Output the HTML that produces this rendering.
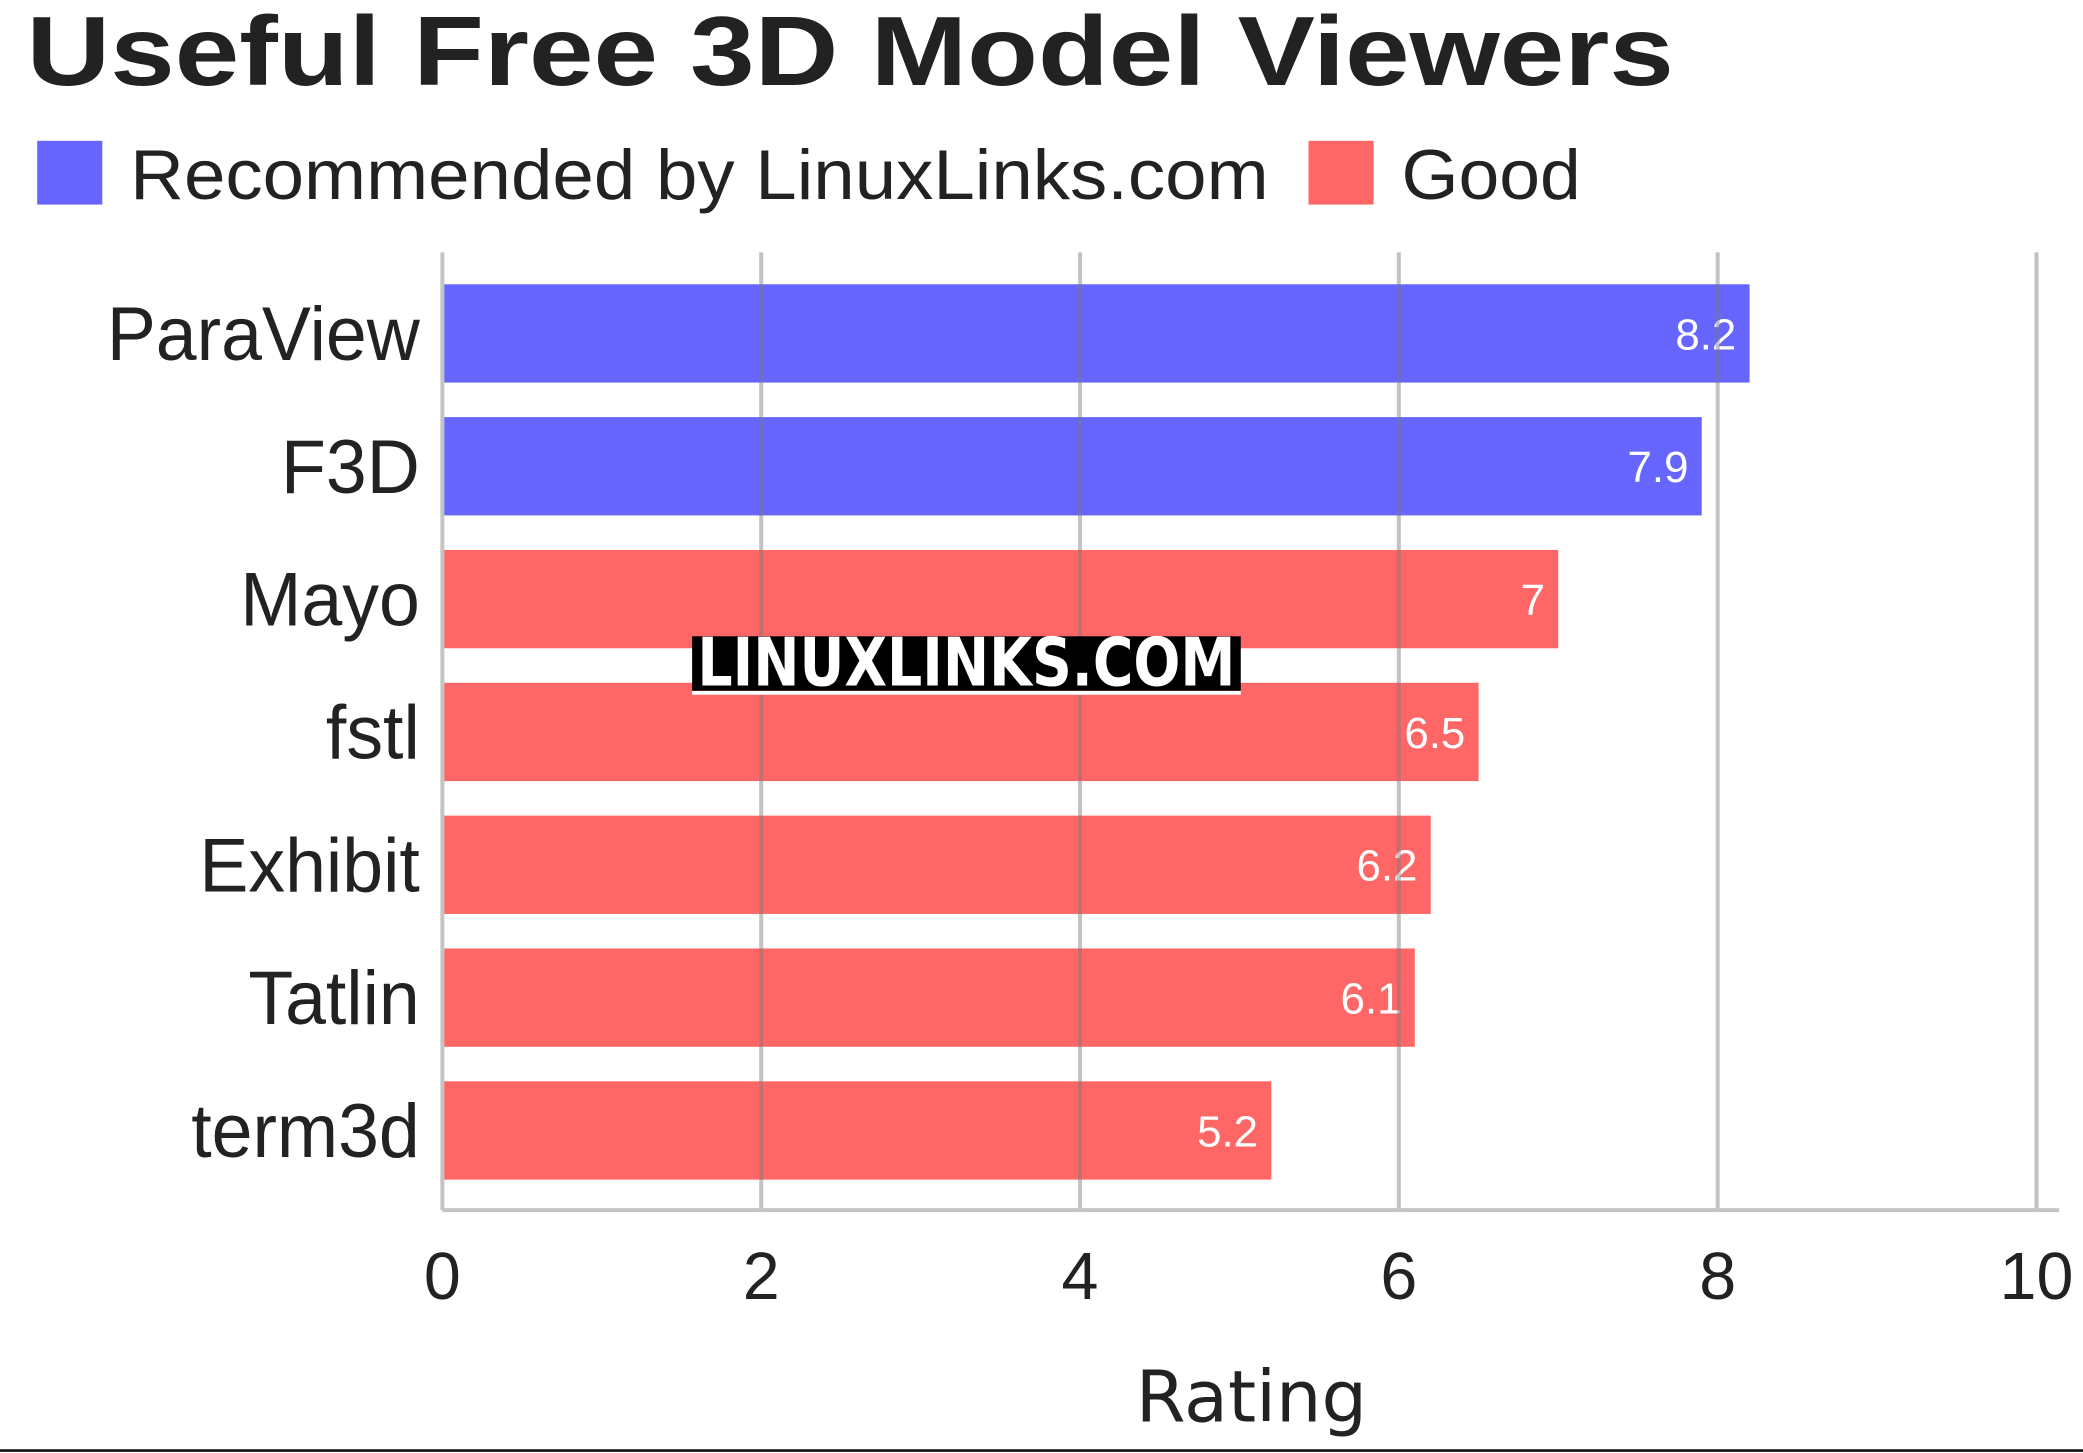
<!DOCTYPE html>
<html><head><meta charset="utf-8"><style>
html,body{margin:0;padding:0;background:#fff;}
svg{display:block;}
text{font-family:"Liberation Sans",sans-serif;}
</style></head><body>
<svg id="chart" width="2083" height="1453" viewBox="0 0 1568 1093.8" preserveAspectRatio="none" xmlns="http://www.w3.org/2000/svg">
<text x="20" y="64" font-size="74" font-weight="bold" fill="#222" textLength="1240" lengthAdjust="spacingAndGlyphs">Useful Free 3D Model Viewers</text>
<rect x="28" y="106" width="49" height="48" fill="#6666ff"/>
<text x="98" y="150" font-size="53" fill="#222" textLength="857" lengthAdjust="spacingAndGlyphs">Recommended by LinuxLinks.com</text>
<rect x="985" y="106" width="49" height="48" fill="#ff6666"/>
<text x="1055" y="150" font-size="53" fill="#222" textLength="135" lengthAdjust="spacingAndGlyphs">Good</text>
<g id="bars"></g>
<g id="labels" transform="translate(316,0) scale(0.97,1) translate(-316,0)"></g>
<g id="grid"></g>
<line x1="333" y1="911" x2="1550" y2="911" stroke="#c4c4c4" stroke-width="3"/>
<g id="ticks"></g>
<text x="942" y="1070" font-size="54" fill="#222" text-anchor="middle" style="font-family:'DejaVu Sans',sans-serif">Rating</text>
<line x1="0" y1="1092" x2="1568" y2="1092" stroke="#111" stroke-width="2"/>
<g>
<rect x="521" y="520" width="413" height="3" fill="#fff"/>
<rect x="521" y="479" width="413" height="41" fill="#000"/>
<text x="525" y="516" font-size="50" font-weight="bold" fill="#fff" textLength="405" lengthAdjust="spacingAndGlyphs" style="font-family:'DejaVu Sans',sans-serif">LINUXLINKS.COM</text>
</g>
</svg>
<script>
const categories = ["ParaView","F3D","Mayo","fstl","Exhibit","Tatlin","term3d"];
const values = [8.2,7.9,7,6.5,6.2,6.1,5.2];
const groups = ["rec","rec","good","good","good","good","good"];
const tickValues = [0,2,4,6,8,10];
const NS="http://www.w3.org/2000/svg";
const x0=333, pxPer=120, top0=214, step=100, barH=74;
const xs=v=>x0+v*pxPer;
const bars=document.getElementById('bars');
const labels=document.getElementById('labels');
function mk(tag,attrs,parent){const e=document.createElementNS(NS,tag);for(const k in attrs)e.setAttribute(k,attrs[k]);parent.appendChild(e);return e;}
categories.forEach((c,i)=>{
  const y=top0+i*step;
  const r=mk('rect',{x:x0,y:y,width:xs(values[i])-x0,height:barH,fill:groups[i]==='rec'?'#6666ff':'#ff6666'},bars);
  
  
  const v=mk('text',{x:xs(values[i])-10,y:y+barH/2+12,'font-size':33,fill:'#fff','text-anchor':'end'},bars);
  v.textContent=String(values[i]);
  
  
  const l=mk('text',{x:316,y:y+barH/2+20,'font-size':57,fill:'#222','text-anchor':'end'},labels);
  l.textContent=c;
  
  
});
const grid=document.getElementById('grid'), ticks=document.getElementById('ticks');
tickValues.forEach(t=>{
  const g=mk('line',{x1:xs(t),y1:190,x2:xs(t),y2:911,stroke:t===0?'#c4c4c4':'rgba(120,120,120,0.45)','stroke-width':3},grid);
  
  
  const tl=mk('text',{x:xs(t),y:978,'font-size':50,fill:'#222','text-anchor':'middle'},ticks);
  tl.textContent=String(t);
  
  
});
</script>
</body></html>
